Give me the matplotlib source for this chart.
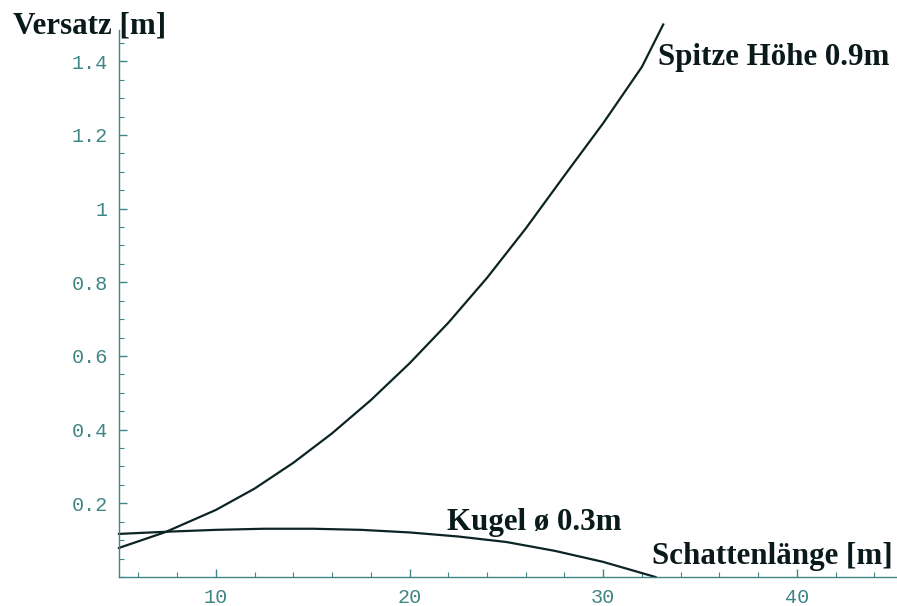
import matplotlib.pyplot as plt
from matplotlib.ticker import MultipleLocator

# Werte
spitze_x = [5, 7.4, 10, 12, 14, 16, 18, 20, 22, 24, 26, 28, 30, 32, 33.1]
spitze_y = [0.079, 0.122, 0.182, 0.240, 0.310, 0.390, 0.480, 0.580, 0.690, 0.812, 0.946, 1.090, 1.232, 1.385, 1.5]

kugel_x = [5, 7.5, 10, 12.5, 15, 17.5, 20, 22.5, 25, 27.5, 30, 32.7]
kugel_y = [0.117, 0.123, 0.128, 0.131, 0.131, 0.128, 0.121, 0.110, 0.095, 0.071, 0.041, 0.0]

x_ticks = [10, 20, 30, 40]
y_ticks = [0.2, 0.4, 0.6, 0.8, 1.0, 1.2, 1.4]
y_ticklabels = ["0.2", "0.4", "0.6", "0.8", "1", "1.2", "1.4"]

W, H = 897, 606
axis_col = "#3f8585"
line_col = "#0c2424"
serif = {"family": "Liberation Serif", "weight": "bold", "size": 22.3, "color": "#0a1a1a"}

fig = plt.figure(figsize=(W / 100, H / 100), dpi=100)
ax = fig.add_axes([119 / W, (H - 577) / H, 778 / W, 547 / H])

ax.plot(spitze_x, spitze_y, color=line_col, lw=1.6, clip_on=False)
ax.plot(kugel_x, kugel_y, color=line_col, lw=1.6, clip_on=False)

ax.set_xlim(5, 45.17)
ax.set_ylim(0, 1.485)

for s in ["top", "right"]:
    ax.spines[s].set_visible(False)
for s in ["left", "bottom"]:
    ax.spines[s].set_color(axis_col)
    ax.spines[s].set_linewidth(1.0)

ax.set_xticks(x_ticks)
ax.set_yticks(y_ticks)
ax.set_yticklabels(y_ticklabels)
ax.xaxis.set_minor_locator(MultipleLocator(2))
ax.yaxis.set_minor_locator(MultipleLocator(0.05))

ax.tick_params(which="major", direction="in", length=6, width=1.0, color=axis_col,
               labelcolor=axis_col, labelsize=14.5, pad=8)
ax.tick_params(which="minor", direction="in", length=3.5, width=0.8, color=axis_col)
for lab in ax.get_xticklabels() + ax.get_yticklabels():
    lab.set_family("Liberation Mono")

# Beschriftungen wie in der Vorlage
fig.text(13 / W, 1 - 33 / H, "Versatz [m]", ha="left", va="baseline", **serif)
fig.text(658 / W, 1 - 65 / H, "Spitze Höhe 0.9m", ha="left", va="baseline", **serif)
fig.text(447 / W, 1 - 530 / H, "Kugel ø 0.3m", ha="left", va="baseline", **serif)
fig.text(893 / W, 1 - 564 / H, "Schattenlänge [m]", ha="right", va="baseline", **serif)

fig.savefig("out.png", dpi=100)
